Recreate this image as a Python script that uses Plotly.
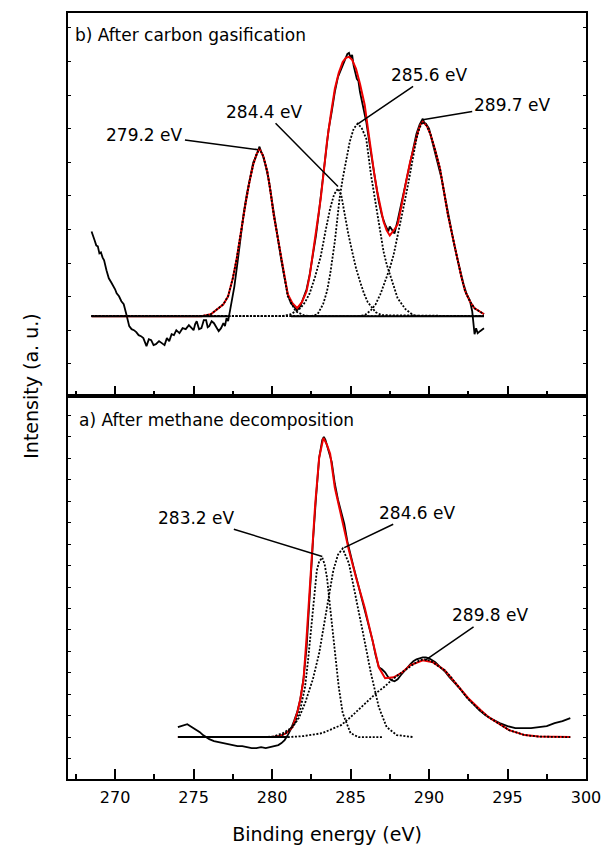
import plotly.graph_objects as go

# ---------------- Panel b) After carbon gasification ----------------
b_raw_x = [268.5, 268.6, 268.7, 268.8, 268.9, 269.0, 269.1, 269.2, 269.3, 269.45, 269.6, 269.75, 269.9,
           270.0, 270.1, 270.25, 270.4, 270.55, 270.7, 270.8, 270.9, 271.05, 271.2, 271.35, 271.5,
           271.65, 271.8, 271.9, 272.0, 272.15, 272.3, 272.45, 272.6, 272.8, 273.0, 273.15, 273.3,
           273.45, 273.6, 273.75, 273.9, 274.1, 274.3, 274.5, 274.7, 274.85, 275.0, 275.1, 275.2,
           275.35, 275.5, 275.65, 275.8, 275.9, 276.0, 276.15, 276.3, 276.45, 276.6, 276.75, 276.9,
           277.0, 277.1, 277.2, 277.3, 277.4, 277.6, 277.8, 278.0, 278.2, 278.4,
           278.6, 278.8, 279.0, 279.1, 279.2, 279.3, 279.4, 279.6, 279.8, 280.0, 280.2, 280.4, 280.6,
           280.8, 281.0, 281.2, 281.4, 281.6, 281.8, 282.0, 282.2, 282.4, 282.6, 282.8, 283.0, 283.2,
           283.4, 283.6, 283.8, 284.0, 284.2, 284.4, 284.6, 284.8, 284.9, 285.0, 285.1, 285.2, 285.4,
           285.5, 285.6, 285.8, 286.0, 286.2, 286.4, 286.6, 286.8, 287.0, 287.2, 287.4, 287.5, 287.6,
           287.8, 288.0, 288.2, 288.4, 288.6, 288.8, 289.0, 289.2, 289.4, 289.6, 289.7, 289.8, 290.0,
           290.2, 290.4, 290.6, 290.8, 291.0, 291.2, 291.4, 291.6, 291.8, 292.0, 292.2, 292.4, 292.6,
           292.75, 292.9, 293.0, 293.1, 293.25, 293.5]
b_raw_y = [8.5, 7.9, 7.6, 7.1, 7.0, 6.3, 6.4, 5.9, 5.6, 4.6, 3.8, 3.4, 3.0, 2.7, 2.3, 2.0, 1.5, 1.2,
           0.3, -0.4, -1.0, -1.3, -1.4, -1.6, -1.9, -2.0, -2.2, -2.6, -3.0, -2.3, -2.4, -2.9, -2.8,
           -2.5, -2.7, -2.9, -2.2, -2.5, -1.8, -1.9, -1.4, -1.7, -1.2, -1.3, -0.9, -1.1, -1.4, -0.8,
           -0.5, -1.3, -1.2, -0.4, -0.4, -1.1, -1.0, -0.5, -0.7, -1.1, -1.5, -1.2, -0.7, -1.0, -0.2,
           -0.5, 0.4, 0.9, 3.0, 5.4, 8.2, 10.4, 12.3, 13.8, 15.4, 16.1, 16.6, 17.0, 16.5, 16.2, 15.0,
           13.6, 11.5, 9.4, 7.4, 5.5, 3.8, 2.2, 1.3, 0.9, 0.6, 1.0, 1.8, 2.7, 4.2, 6.0, 8.1, 10.6,
           13.3, 16.0, 18.7, 20.5, 22.5, 24.0, 24.8, 25.7, 26.3, 26.4, 25.9, 26.2, 25.1, 23.8, 23.6,
           22.5, 21.0, 19.5, 17.4, 15.2, 13.4, 11.5, 10.1, 9.2, 8.5, 9.0, 8.8, 8.3, 9.6, 11.1, 12.6,
           14.1, 15.6, 17.0, 18.3, 19.2, 19.8, 19.4, 19.3, 18.8, 17.5, 16.5, 15.1, 13.8, 12.1, 10.4,
           8.7, 7.2, 5.8, 4.4, 3.2, 2.2, 1.6, 0.5, -1.8, -1.2, -1.7, -1.5, -1.2]

b_fit_x = [268.5, 272.0, 275.5, 276.1, 276.9, 277.2, 277.5, 277.75, 278.0, 278.3, 278.55, 278.8, 279.0,
           279.2, 279.45, 279.7, 279.9, 280.1, 280.35, 280.6, 280.8, 281.0, 281.3, 281.6, 281.9, 282.2,
           282.4, 282.6, 282.85, 283.1, 283.3, 283.5, 283.75, 284.0, 284.25, 284.5, 284.7, 284.9, 285.1,
           285.35, 285.6, 285.9, 286.1, 286.3, 286.5, 286.7, 286.9, 287.1, 287.3, 287.5, 287.75, 288.0,
           288.2, 288.4, 288.6, 288.8, 289.05, 289.3, 289.45, 289.6, 289.85, 290.1, 290.4, 290.7, 290.95,
           291.2, 291.5, 291.8, 292.05, 292.3, 292.6, 292.9, 293.5]
b_fit_y = [0.0, 0.0, 0.0, 0.2, 1.2, 2.0, 3.8, 5.8, 8.4, 11.2, 13.4, 15.2, 16.2, 16.8, 16.0, 14.5, 12.5,
           10.2, 8.0, 5.8, 3.9, 2.2, 1.3, 0.8, 1.4, 2.5, 4.1, 6.2, 9.0, 11.8, 14.6, 17.5, 20.3, 22.8,
           24.4, 25.5, 25.9, 26.0, 25.7, 24.8, 23.3, 21.2, 18.9, 16.5, 14.4, 12.5, 10.9, 9.5, 8.6, 8.1,
           8.6, 9.2, 10.7, 12.5, 14.0, 15.5, 17.1, 18.5, 19.2, 19.5, 19.1, 18.2, 16.6, 14.8, 12.5, 10.2,
           8.0, 5.8, 4.0, 2.5, 1.5, 0.8, 0.2]

b_base_x1 = [268.5, 277.2]
b_base_x2 = [281.2, 293.5]
b_base_y = [0.0, 0.0]

b_c1_x = [268.5, 275.5, 276.1, 276.9, 277.2, 277.5, 277.75, 278.0, 278.3, 278.55, 278.8, 279.0, 279.2,
          279.45, 279.7, 279.9, 280.1, 280.35, 280.6, 280.8, 281.0, 281.5, 282.0, 282.5, 293.5]
b_c1_y = [0.0, 0.0, 0.2, 1.2, 2.0, 3.8, 5.8, 8.4, 11.2, 13.4, 15.2, 16.2, 16.8, 16.0, 14.5, 12.5, 10.2,
          8.0, 5.8, 3.9, 2.0, 0.5, 0.1, 0.0, 0.0]
b_c2_x = [268.5, 280.6, 281.2, 281.8, 282.1, 282.4, 282.75, 283.1, 283.4, 283.7, 283.95, 284.2, 284.4,
          284.6, 284.85, 285.1, 285.35, 285.6, 285.85, 286.1, 286.6, 287.0, 293.5]
b_c2_y = [0.0, 0.0, 0.2, 0.8, 1.4, 2.3, 4.0, 6.0, 8.5, 10.8, 12.2, 12.8, 12.2, 10.3, 8.3, 6.5, 4.8, 3.5,
          2.3, 1.4, 0.4, 0.1, 0.0]
b_c3_x = [268.5, 282.5, 282.9, 283.25, 283.5, 283.7, 284.0, 284.3, 284.5, 284.7, 284.95, 285.2, 285.45,
          285.7, 286.0, 286.3, 286.5, 286.7, 286.9, 287.1, 287.3, 287.5, 287.75, 288.0, 288.5, 289.0,
          289.5, 293.5]
b_c3_y = [0.0, 0.0, 0.2, 1.2, 2.5, 4.2, 7.5, 11.8, 13.8, 15.5, 17.5, 18.8, 19.3, 18.9, 17.8, 14.2, 12.2,
          10.2, 8.2, 6.5, 5.2, 4.2, 2.9, 1.8, 0.7, 0.1, 0.0, 0.0]
b_c4_x = [268.5, 285.5, 285.9, 286.3, 286.6, 286.9, 287.2, 287.5, 287.75, 288.0, 288.2, 288.45, 288.7,
          288.95, 289.2, 289.4, 289.6, 289.85, 290.1, 290.4, 290.7, 290.95, 291.2, 291.5, 291.8, 292.05,
          292.3, 292.6, 292.9, 293.5]
b_c4_y = [0.0, 0.0, 0.1, 0.6, 1.2, 2.2, 3.5, 4.8, 6.2, 8.0, 9.5, 11.5, 13.5, 15.8, 17.8, 18.9, 19.5,
          19.1, 18.2, 16.6, 14.8, 12.5, 10.2, 8.0, 5.8, 4.0, 2.5, 1.5, 0.8, 0.2]

# ---------------- Panel a) After methane decomposition ----------------
a_raw_x = [274.0, 274.2, 274.4, 274.6, 274.8, 275.0, 275.2, 275.4, 275.6, 275.8, 276.0, 276.3, 276.6,
           276.9, 277.2, 277.5, 277.8, 278.1, 278.4, 278.7, 279.0, 279.3, 279.6, 279.9, 280.2, 280.4,
           280.6, 280.8, 281.0, 281.2, 281.4, 281.6, 281.8, 282.0, 282.2, 282.4, 282.6, 282.8, 283.0,
           283.2, 283.3, 283.4, 283.6, 283.8, 284.0, 284.2, 284.4, 284.6, 284.8, 285.0, 285.2, 285.4,
           285.6, 285.8, 286.0, 286.2, 286.4, 286.6, 286.8, 287.0, 287.2, 287.4, 287.6, 287.8, 288.0,
           288.2, 288.4, 288.6, 288.8, 289.0, 289.2, 289.4, 289.6, 289.8, 290.0, 290.2, 290.4, 290.6,
           290.8, 291.0, 291.3, 291.6, 292.0, 292.4, 292.8, 293.2, 293.6, 294.0, 294.5, 295.0, 295.5,
           296.0, 296.5, 297.0, 297.5, 298.0, 298.5, 299.0]
a_raw_y = [1.0, 1.1, 1.2, 1.3, 1.1, 0.9, 0.7, 0.5, 0.2, 0.0, -0.2, -0.4, -0.5, -0.6, -0.7, -0.8, -0.9,
           -0.9, -1.0, -1.1, -1.1, -1.0, -1.1, -1.0, -0.9, -0.8, -0.6, -0.3, 0.2, 0.8, 1.6, 2.5, 3.8,
           5.8, 9.0, 14.5, 19.5, 24.0, 28.0, 29.8, 30.1, 29.8, 28.8, 27.6, 25.4, 23.8, 22.6, 21.4, 19.6,
           18.2, 17.0, 15.8, 14.6, 13.4, 12.3, 11.0, 9.7, 8.2, 7.0, 6.8, 6.5, 6.0, 5.7, 5.6, 5.8, 6.2,
           6.6, 7.0, 7.3, 7.6, 7.8, 7.9, 8.0, 8.0, 7.9, 7.7, 7.5, 7.2, 6.9, 6.6, 6.0, 5.5, 4.8, 4.0, 3.3,
           2.7, 2.2, 1.8, 1.4, 1.1, 0.9, 0.9, 0.9, 1.0, 1.1, 1.4, 1.6, 1.9]

a_fit_x = [274.0, 280.0, 280.5, 280.9, 281.3, 281.6, 281.8, 282.0, 282.2, 282.4, 282.6, 282.75, 283.0,
           283.27, 283.5, 283.7, 284.0, 284.25, 284.5, 284.9, 285.35, 285.9, 286.4, 286.8, 287.2, 287.75,
           288.3, 288.8, 289.6, 290.25, 291.0, 291.7, 292.5, 293.3, 293.8, 294.5, 295.1, 296.1, 297.0,
           299.0]
a_fit_y = [0.0, 0.0, 0.1, 0.4, 1.0, 2.4, 3.8, 5.7, 10.0, 15.0, 19.5, 23.4, 28.0, 30.0, 29.3, 28.4, 25.0,
           23.2, 21.7, 18.7, 16.0, 13.0, 9.7, 7.0, 5.9, 6.0, 6.5, 7.2, 7.7, 7.5, 6.7, 5.4, 3.9, 2.7,
           2.0, 1.3, 0.7, 0.2, 0.05, 0.0]

a_base_x = [274.0, 281.0]
a_base_y = [0.0, 0.0]

a_c1_x = [279.5, 280.5, 281.0, 281.5, 281.8, 282.1, 282.3, 282.5, 282.7, 282.85, 283.0, 283.2, 283.35,
          283.5, 283.7, 284.0, 284.25, 284.5, 285.0, 285.5, 287.0]
a_c1_y = [0.0, 0.1, 0.5, 1.5, 2.8, 5.0, 7.8, 11.0, 14.5, 16.7, 17.6, 18.0, 17.3, 16.0, 13.0, 8.4, 5.0,
          2.4, 0.4, 0.0, 0.0]
a_c2_x = [280.0, 280.7, 281.3, 281.7, 282.1, 282.6, 283.0, 283.3, 283.6, 283.9, 284.2, 284.5, 284.9,
          285.35, 285.8, 286.3, 286.8, 287.3, 287.95, 289.0]
a_c2_y = [0.0, 0.4, 1.0, 1.9, 3.4, 5.8, 8.4, 11.2, 14.0, 16.7, 18.3, 18.9, 17.4, 14.0, 10.4, 6.4, 3.0,
          1.0, 0.2, 0.0]
a_c3_x = [281.0, 282.0, 283.2, 284.4, 285.0, 285.7, 286.2, 286.7, 287.2, 287.6, 288.1, 288.6, 289.0,
          289.4, 289.7, 290.0, 290.25, 290.6, 291.0, 291.35, 291.7, 292.1, 292.5, 292.9, 293.3, 293.8,
          294.4, 295.1, 296.1, 297.0, 299.0]
a_c3_y = [0.0, 0.1, 0.4, 1.2, 2.0, 3.0, 3.8, 4.5, 5.1, 5.7, 6.3, 6.9, 7.3, 7.7, 7.8, 7.7, 7.5, 7.1, 6.7,
          6.1, 5.4, 4.6, 3.8, 3.2, 2.6, 2.0, 1.4, 0.7, 0.2, 0.05, 0.0]

# Peak labels: (text, tip x, tip y, label x, label y)
b_labels = [("279.2 eV", 279.1, 16.7, 271.9, 18.2),
            ("284.4 eV", 284.2, 13.0, 279.5, 20.5),
            ("285.6 eV", 285.4, 19.2, 290.06, 24.2),
            ("289.7 eV", 289.6, 19.7, 295.3, 21.2)]
a_labels = [("283.2 eV", 283.2, 18.1, 275.2, 22.0),
            ("284.6 eV", 284.6, 19.0, 289.25, 22.5),
            ("289.8 eV", 289.75, 7.7, 293.9, 12.2)]

FONT = "DejaVu Sans"
DOT = "2px,1.6px"

fig = go.Figure()

def add_panel(xa, ya, raw_x, raw_y, fit_x, fit_y, bases, comps):
    fig.add_trace(go.Scatter(x=raw_x, y=raw_y, mode="lines", xaxis=xa, yaxis=ya,
                             line=dict(color="black", width=1.8), showlegend=False, hoverinfo="skip"))
    fig.add_trace(go.Scatter(x=fit_x, y=fit_y, mode="lines", xaxis=xa, yaxis=ya,
                             line=dict(color="#ee0000", width=2), showlegend=False, hoverinfo="skip"))
    for bx, by in bases:
        fig.add_trace(go.Scatter(x=bx, y=by, mode="lines", xaxis=xa, yaxis=ya,
                                 line=dict(color="black", width=2), showlegend=False, hoverinfo="skip"))
    for cx, cy in comps:
        fig.add_trace(go.Scatter(x=cx, y=cy, mode="lines", xaxis=xa, yaxis=ya,
                                 line=dict(color="black", width=1.8, dash=DOT),
                                 showlegend=False, hoverinfo="skip"))

add_panel("x2", "y2", b_raw_x, b_raw_y, b_fit_x, b_fit_y,
          [(b_base_x1, b_base_y), (b_base_x2, b_base_y)],
          [(b_c1_x, b_c1_y), (b_c2_x, b_c2_y), (b_c3_x, b_c3_y), (b_c4_x, b_c4_y)])
add_panel("x", "y", a_raw_x, a_raw_y, a_fit_x, a_fit_y,
          [(a_base_x, a_base_y)],
          [(a_c1_x, a_c1_y), (a_c2_x, a_c2_y), (a_c3_x, a_c3_y)])

annotations = []
for (txt, tx, ty, lx, ly), (xr, yr) in ([(l, ("x2", "y2")) for l in b_labels] +
                                       [(l, ("x", "y")) for l in a_labels]):
    annotations.append(dict(text=txt, x=tx, y=ty, xref=xr, yref=yr, ax=lx, ay=ly, axref=xr, ayref=yr,
                            showarrow=True, arrowhead=0, arrowwidth=1.5, arrowcolor="black",
                            standoff=0, startstandoff=0, borderpad=1,
                            font=dict(family=FONT, size=17, color="black")))

annotations.append(dict(text="b) After carbon gasification", x=267.3, y=28.2, xref="x2", yref="y2",
                        xanchor="left", yanchor="middle", showarrow=False,
                        font=dict(family=FONT, size=17, color="black")))
annotations.append(dict(text="a) After methane decomposition", x=267.55, y=31.8, xref="x", yref="y",
                        xanchor="left", yanchor="middle", showarrow=False,
                        font=dict(family=FONT, size=17, color="black")))
annotations.append(dict(text="Intensity (a. u.)", x=-0.072, y=0.513, xref="paper", yref="paper",
                        xanchor="center", yanchor="middle", textangle=-90, showarrow=False,
                        font=dict(family=FONT, size=19, color="black")))

xcommon = dict(range=[267, 300], showline=True, linecolor="black", linewidth=2, mirror=True,
               ticks="inside", ticklen=10, tickwidth=1.5, tickcolor="black", dtick=5, tick0=270,
               minor=dict(dtick=2.5, tick0=267.5, ticks="inside", ticklen=5, tickwidth=1.5,
                          tickcolor="black"),
               showgrid=False, zeroline=False)
ycommon = dict(showline=True, linecolor="black", linewidth=2, mirror="ticks", ticks="inside",
               ticklen=3, tickwidth=1.2, tickcolor="black", showticklabels=False,
               showgrid=False, zeroline=False)

fig.update_layout(
    width=612, height=853,
    margin=dict(l=68, r=16, t=11, b=74),
    paper_bgcolor="white", plot_bgcolor="white",
    font=dict(family=FONT, color="black"),
    xaxis=dict(**xcommon, anchor="y", domain=[0, 1], ticklabelstandoff=3,
               tickfont=dict(family=FONT, size=16, color="black"),
               title=dict(text="Binding energy (eV)", font=dict(family=FONT, size=19, color="black"),
                          standoff=21)),
    xaxis2=dict(**xcommon, anchor="y2", domain=[0, 1], showticklabels=False, matches="x"),
    yaxis=dict(**ycommon, domain=[0, 0.5], range=[-4.2, 34.2], tick0=0, dtick=2.15),
    yaxis2=dict(**ycommon, domain=[0.5, 1], range=[-8.0, 30.4], tick0=-1.4, dtick=3.367),
    annotations=annotations,
)

fig.write_html("out.html")
